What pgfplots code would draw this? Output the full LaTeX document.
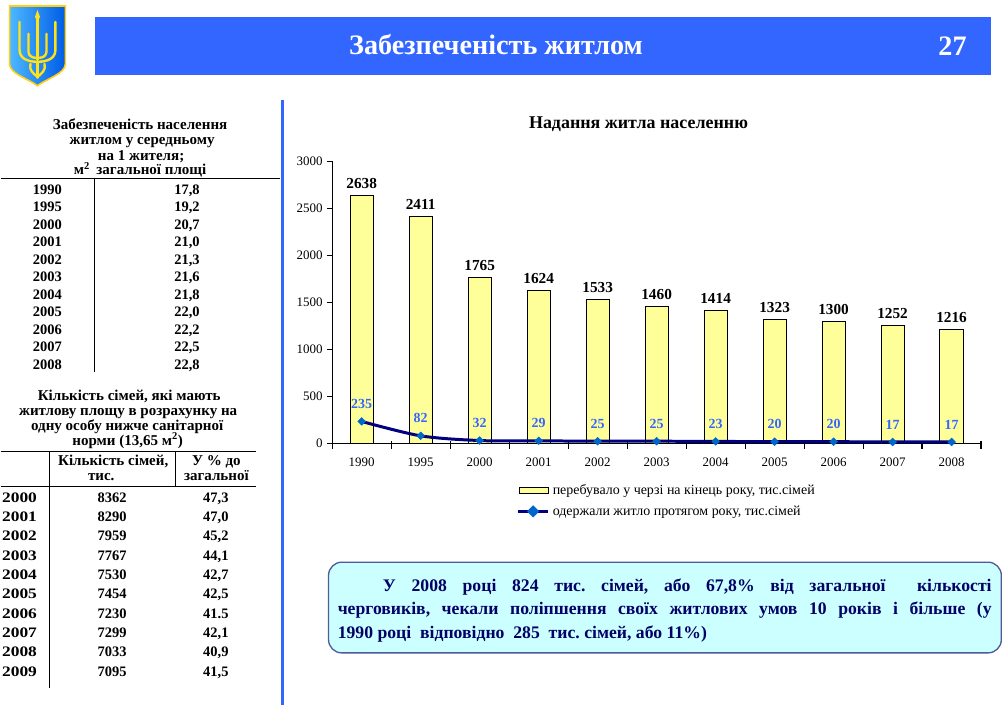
\documentclass[border=0pt]{standalone}
\usepackage{pgfplots}
\pgfplotsset{compat=1.18}
\usepackage{fontspec}
\setmainfont{Liberation Serif}

\definecolor{hdrblue}{HTML}{3366FF}
\definecolor{barfill}{HTML}{FFFF99}
\definecolor{navy}{HTML}{000080}
\definecolor{markblue}{HTML}{0066CC}
\definecolor{lblblue}{HTML}{3366FF}
\definecolor{boxfill}{HTML}{CCFFFF}
\definecolor{boxline}{HTML}{4D5C99}
\definecolor{boxtext}{HTML}{000066}
\definecolor{gold}{HTML}{FFE21A}

\pgfplotsset{/pgf/number format/1000 sep={}}

\newcommand{\thd}{\bfseries\fontsize{11.3}{13}\selectfont}
\newcommand{\tb}{\bfseries\fontsize{10.9}{12}\selectfont}

\begin{document}
\frenchspacing
\begin{tikzpicture}
\begin{scope}[x=0.75pt,y=-0.75pt]
\path[fill=white] (0,0) rectangle (1002,707);

% coat of arms
\path[left color=cyan!60!blue!70, right color=blue!60!cyan!90!black, draw=gold!80!orange, line width=1.2pt]
  (9,6) -- (65,6) -- (65,64) .. controls (65,74) and (46,79) .. (37,86)
  .. controls (28,79) and (9,74) .. (9,64) -- cycle;
\begin{scope}[draw=gold, line width=1.8pt, line cap=round]
  \draw (37,16) -- (37,60);
  \fill[gold] (37,10) -- (39.5,17) -- (37,22) -- (34.5,17) -- cycle;
  \draw (19,22) -- (19,50) .. controls (19,58) and (26,62) .. (37,62);
  \draw (55,22) -- (55,50) .. controls (55,58) and (48,62) .. (37,62);
  \draw (28,34) -- (28,52) .. controls (28,56) and (32,58) .. (35,58);
  \draw (46,34) -- (46,52) .. controls (46,56) and (42,58) .. (39,58);
  \draw (30,64) .. controls (28,70) and (33,74) .. (37,77) .. controls (41,74) and (46,70) .. (44,64);
  \draw (37,62) -- (37,78);
\end{scope}

% header bar
\fill[hdrblue] (95,17) rectangle (994,75);
\node[anchor=base, text=white, font=\bfseries\fontsize{21.2}{25}\selectfont] at (497,55) {Забезпеченість житлом};
\node[anchor=base, text=white, font=\bfseries\fontsize{21.2}{25}\selectfont] at (955,56) {27};

% separator
\draw[hdrblue, line width=2.25pt] (283,100) -- (283,707);

% table 1
\node[anchor=base, font=\thd] at (140,130) {Забезпеченість населення};
\node[anchor=base, font=\thd] at (142,145.3) {житлом у середньому};
\node[anchor=base, font=\thd] at (141,160.6) {на 1 жителя;};
\node[anchor=base, font=\thd] at (140,175) {м\textsuperscript{2}\, загальної площі};
\draw[line width=0.9pt] (0,179.3) -- (280,179.3);
\draw[line width=0.9pt] (94.5,179.3) -- (94.5,373);
\foreach \yr/\v [count=\i from 0] in {1990/{17,8},1995/{19,2},2000/{20,7},2001/{21,0},2002/{21,3},2003/{21,6},2004/{21,8},2005/{22,0},2006/{22,2},2007/{22,5},2008/{22,8}}{
  \node[font=\tb, inner sep=0pt, anchor=base] at (47,195+\i*17.56) {\yr};
  \node[font=\tb, inner sep=0pt, anchor=base] at (187,195+\i*17.56) {\v};
}

% table 2
\node[anchor=base, font=\thd] at (129,401.7) {Кількість сімей, які мають};
\node[anchor=base, font=\thd] at (128,416.7) {житлову площу в розрахунку на};
\node[anchor=base, font=\thd] at (127,431.7) {одну особу нижче санітарної};
\node[anchor=base, font=\thd] at (127.5,446.7) {норми (13,65 м\textsuperscript{2})};
\draw[line width=0.9pt] (0,452.7) -- (256,452.7);
\draw[line width=0.9pt] (0,487.7) -- (256,487.7);
\draw[line width=0.9pt] (49.3,452.7) -- (49.3,690);
\draw[line width=0.9pt] (175.7,452.7) -- (175.7,487.7);
\node[anchor=base, font=\thd] at (113,467.3) {Кількість сімей,};
\node[anchor=base, font=\thd] at (101,481.7) {тис.};
\node[anchor=base, font=\thd] at (216.5,467.3) {У \% до};
\node[anchor=base, font=\thd] at (216.5,481.7) {загальної};
\foreach \yr/\n/\p [count=\i from 0] in {2000/8362/{47,3},2001/8290/{47,0},2002/7959/{45,2},2003/7767/{44,1},2004/7530/{42,7},2005/7454/{42,5},2006/7230/{41.5},2007/7299/{42,1},2008/7033/{40,9},2009/7095/{41,5}}{
  \node[font=\tb, inner sep=0pt, xscale=1.2, anchor=base] at (19,504+\i*19.37) {\yr};
  \node[font=\tb, inner sep=0pt, anchor=base] at (112,504+\i*19.37) {\n};
  \node[font=\tb, inner sep=0pt, anchor=base] at (216,504+\i*19.37) {\p};
}

% chart title
\node[font=\bfseries\fontsize{13.5}{16}\selectfont] at (640,125) {Надання житла населенню};

% callout
\draw[fill=boxfill, draw=boxline, line width=1pt, rounded corners=10pt] (329,564) rectangle (1004,655);
\node[anchor=north west, inner sep=0pt, text width=492pt, align=justify, text=boxtext,
      font=\bfseries\fontsize{13.3}{18}\selectfont] at (338,580)
 {\hspace*{34pt}У 2008 році 824 тис. сімей, або 67,8\% від загальної\ \ кількості\linebreak
  черговиків, чекали поліпшення своїх житлових умов 10 років і більше (у\linebreak
  1990 році\ \ відповідно\ \ 285\ \ тис. сімей, або 11\%)};
\end{scope}

\begin{axis}[
  at={(249.5pt,-333.75pt)}, anchor=south west,
  scale only axis, width=488.25pt, height=212.5pt,
  xmin=-0.5, xmax=10.5, ymin=0, ymax=3000,
  axis x line*=bottom, axis y line*=left,
  axis line style={line width=0.9pt, black},
  xtick={0,...,10},
  xticklabels={1990,1995,2000,2001,2002,2003,2004,2005,2006,2007,2008},
  minor xtick={-0.5,0.5,...,10.5},
  major x tick style={draw=none},
  minor x tick style={black, line width=0.9pt, yshift=2.25pt},
  ytick={0,500,...,3000},
  y tick style={black, line width=0.9pt},
  tick align=outside,
  major tick length=3.75pt, minor tick length=6pt,
  /pgf/number format/assume math mode=true,
  ticklabel style={font=\fontsize{9.75}{11}\selectfont},
  xticklabel style={yshift=-3.5pt},
  clip=false,
  legend style={at={(0.283,-0.134)}, anchor=north west, draw=none, fill=none,
     inner sep=0pt, font=\fontsize{10.5}{12}\selectfont, row sep=3pt,
     /tikz/every even column/.append style={column sep=1pt}},
  legend cell align=left,
]
\addplot[ybar, bar width=17.5pt, fill=barfill, draw=black, line width=0.7pt,
  nodes near coords,
  every node near coord/.append style={font=\bfseries\fontsize{11.5}{13}\selectfont, text=black, anchor=south, inner sep=0pt, yshift=4.8pt},
  legend image code/.code={\draw[fill=barfill, draw=black, line width=0.6pt] (1pt,-2.4pt) rectangle (23pt,2.4pt);}]
coordinates {(0,2638)(1,2411)(2,1765)(3,1624)(4,1533)(5,1460)(6,1414)(7,1323)(8,1300)(9,1252)(10,1216)};
\addlegendentry{перебувало у черзі на кінець року, тис.сімей}

\addplot[navy, line width=2.25pt, smooth, mark=square*, mark size=2.1pt,
  mark options={fill=markblue, draw=markblue, rotate=45, line width=0.3pt},
  nodes near coords,
  every node near coord/.append style={font=\bfseries\fontsize{10.5}{12}\selectfont, text=lblblue, anchor=south, inner sep=0pt, yshift=9.5pt},
  legend image code/.code={\draw[navy, line width=2.6pt] (0pt,0pt) -- (23pt,0pt);
     \fill[markblue] (11.5pt,3pt) -- (14.5pt,0pt) -- (11.5pt,-3pt) -- (8.5pt,0pt) -- cycle;}]
coordinates {(0,235)(1,82)(2,32)(3,29)(4,25)(5,25)(6,23)(7,20)(8,20)(9,17)(10,17)};
\addlegendentry{одержали житло протягом року, тис.сімей}
\end{axis}
\end{tikzpicture}
\end{document}
